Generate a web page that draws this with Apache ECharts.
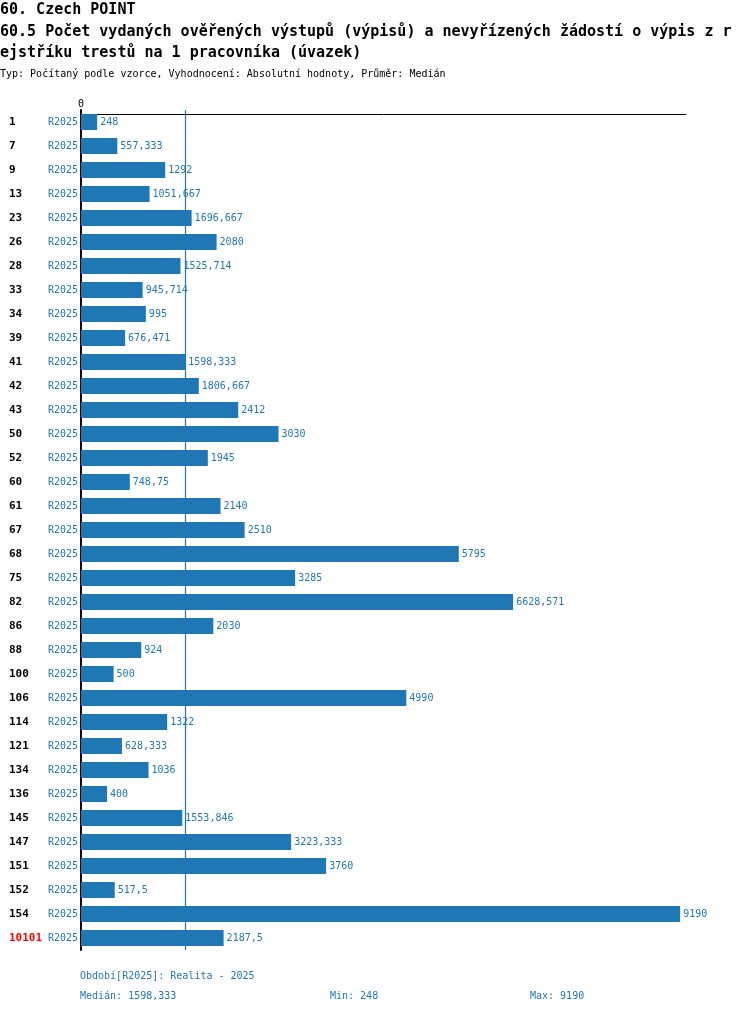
<!DOCTYPE html>
<html>
<head>
<meta charset="utf-8">
<script src="https://cdn.jsdelivr.net/npm/echarts@6/dist/echarts.min.js"></script>
<style>
  html, body { margin: 0; padding: 0; background: #fff; }
  #chart { width: 750px; height: 1014px; }
</style>
</head>
<body>
<div id="chart"></div>
<script>
// data
var ids = ['1', '7', '9', '13', '23', '26', '28', '33', '34', '39', '41', '42', '43', '50', '52', '60',
  '61', '67', '68', '75', '82', '86', '88', '100', '106', '114', '121', '134', '136', '145', '147',
  '151', '152', '154', '10101'];
var values = [248, 557.333, 1292, 1051.667, 1696.667, 2080, 1525.714, 945.714, 995, 676.471,
  1598.333, 1806.667, 2412, 3030, 1945, 748.75, 2140, 2510, 5795, 3285, 6628.571, 2030, 924, 500,
  4990, 1322, 628.333, 1036, 400, 1553.846, 3223.333, 3760, 517.5, 9190, 2187.5];
var period = 'R2025';
var median = 1598.333;
var minVal = 248;
var maxVal = 9190;

var mono = 'DejaVu Sans Mono';
var blue = '#1f77b4';

function fmt(v) {
  return String(v).replace('.', ',');
}

var chart = echarts.init(document.getElementById('chart'));
chart.setOption({
  animation: false,
  textStyle: { fontFamily: mono },
  title: [{
    text: '60. Czech POINT',
    left: 0, top: 3, padding: 0,
    textStyle: { fontFamily: mono, fontSize: 15, fontWeight: 'bold', color: '#000' }
  }, {
    text: '60.5 Počet vydaných ověřených výstupů (výpisů) a nevyřízených žádostí o výpis z r\nejstříku trestů na 1 pracovníka (úvazek)',
    left: 0, top: 22, padding: 0,
    textStyle: { fontFamily: mono, fontSize: 15, fontWeight: 'bold', color: '#000', lineHeight: 21 }
  }, {
    text: 'Typ: Počítaný podle vzorce, Vyhodnocení: Absolutní hodnoty, Průměr: Medián',
    left: 0, top: 69, padding: 0,
    textStyle: { fontFamily: mono, fontSize: 10, fontWeight: 'normal', color: '#000' }
  }],
  grid: { left: 81, right: 64, top: 110, height: 840 },
  xAxis: {
    type: 'value',
    position: 'top',
    offset: -4,
    min: 0,
    max: 9280,
    interval: 5000,
    axisLine: { show: true, lineStyle: { color: '#000', width: 1 } },
    axisTick: { show: false },
    splitLine: { show: false },
    axisLabel: {
      margin: 5,
      fontFamily: mono, fontSize: 10, color: '#000',
      formatter: function(v) { return v === 0 ? '0' : ''; }
    }
  },
  yAxis: {
    type: 'category',
    inverse: true,
    data: ids,
    axisLine: { show: true, lineStyle: { color: '#000', width: 2 } },
    axisTick: { show: false },
    axisLabel: {
      margin: 3,
      formatter: function(v) {
        var key = v === '10101' ? 'idRed' : 'id';
        return '{' + key + '|' + v + '}{per|' + period + '}';
      },
      rich: {
        id: { width: 39, align: 'left', fontFamily: mono, fontSize: 11, fontWeight: 'bold', color: '#000' },
        idRed: { width: 39, align: 'left', fontFamily: mono, fontSize: 11, fontWeight: 'bold', color: '#ff0000' },
        per: { width: 30, align: 'right', fontFamily: mono, fontSize: 10, color: blue }
      }
    }
  },
  series: [{
    type: 'bar',
    data: values,
    barCategoryGap: '33%',
    itemStyle: { color: blue },
    label: {
      show: true,
      position: 'right',
      distance: 3,
      fontFamily: mono,
      fontSize: 10,
      color: blue,
      formatter: function(p) { return fmt(p.value); }
    },
    markLine: {
      silent: true,
      symbol: 'none',
      label: { show: false },
      lineStyle: { color: blue, width: 1.2, type: 'solid', opacity: 1 },
      data: [{ xAxis: median }]
    }
  }],
  graphic: [{
    type: 'text', left: 80, top: 971,
    style: { text: 'Období[R2025]: Realita - 2025', font: '10px ' + mono, fill: blue }
  }, {
    type: 'text', left: 80, top: 991,
    style: { text: 'Medián: ' + fmt(median), font: '10px ' + mono, fill: blue }
  }, {
    type: 'text', left: 330, top: 991,
    style: { text: 'Min: ' + fmt(minVal), font: '10px ' + mono, fill: blue }
  }, {
    type: 'text', left: 530, top: 991,
    style: { text: 'Max: ' + fmt(maxVal), font: '10px ' + mono, fill: blue }
  }]
});
</script>
</body>
</html>
